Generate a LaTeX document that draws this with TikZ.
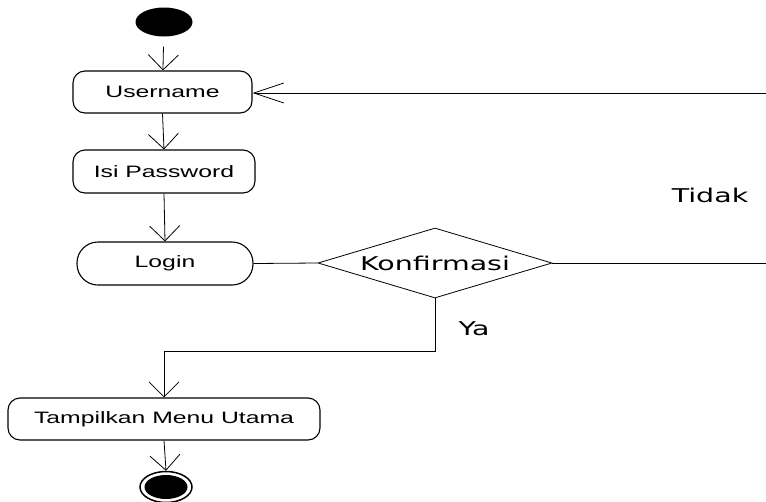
\documentclass[tikz,border=0pt]{standalone}
\usepackage{fontspec}
\usepackage{graphicx}
\setmainfont{Liberation Sans}
\newfontfamily\dvfont{DejaVu Sans}
\usetikzlibrary{arrows.meta,shapes.geometric}
\newcommand{\wtxt}[1]{\scalebox{1.5}[1]{#1}}
\newcommand{\boxfont}{\fontsize{16.5}{18}\selectfont}
\newcommand{\lblfont}{\dvfont\fontsize{19}{21}\selectfont}
\tikzset{
  act/.style={draw, line width=1.1pt, rounded corners=12pt, minimum height=42pt, inner sep=0pt, font=\boxfont},
  flow/.style={draw, line width=0.8pt},
  arr/.style={flow, -{Straight Barb[length=15pt,width=30pt,line width=0.8pt]}},
  longarr/.style={flow, -{Straight Barb[length=30pt,width=20pt,line width=0.8pt]}},
  lbl/.style={inner sep=0pt, font=\lblfont},
}
\begin{document}
\begin{tikzpicture}[x=1pt,y=-1pt]
\clip (0,0) rectangle (766,501);
\fill[white] (0,0) rectangle (766,501);
% start
\node[ellipse, fill=black, minimum width=57pt, minimum height=29pt, inner sep=0pt] (start) at (164,22) {};
% activities
\node[act, minimum width=179pt] (user) at (162.5,92) {\wtxt{Username}};
\node[act, minimum width=182pt, minimum height=43pt] (pass) at (164,171.5) {\wtxt{Isi Password}};
\node[act, minimum width=176pt, minimum height=43pt, rounded corners=21pt] (login) at (165,263.5) {\wtxt{Login}};
\node[diamond, draw, line width=0.8pt, aspect=3.34, minimum width=234pt, minimum height=70pt, inner sep=0pt, font=\lblfont] (konf) at (435,263) {\wtxt{Konfirmasi}};
\node[act, minimum width=312pt] (menu) at (164,419) {\wtxt{Tampilkan Menu Utama}};
% end
\node[ellipse, draw, line width=1.5pt, minimum width=52pt, minimum height=31pt, inner sep=0pt] (endo) at (166,487) {};
\node[ellipse, fill=black, minimum width=43pt, minimum height=24pt, inner sep=0pt] (endi) at (166,487) {};
% labels
\node[lbl] (tidak) at (710,195) {\wtxt{Tidak}};
\node[lbl] (ya) at (474,329) {\wtxt{Ya}};
% coordinates
\coordinate (r1) at (772,263);
\coordinate (r2) at (772,93);
\coordinate (y1) at (435,351);
\coordinate (y2) at (164,351);
% connectors
\draw[arr, shorten <=10pt] (start) -- (user);
\draw[arr] (user.south) -- (pass.north);
\draw[arr] (pass.south) -- (login.north);
\draw[flow] (login.east) -- (konf.west);
\draw[longarr] (konf.east) -- (r1) -- (r2) -- (user.east |- r2);
\draw[arr] (konf.south) -- (y1) -- (y2) -- (menu.north);
\draw[arr] (menu.south) -- (endo.north);
\end{tikzpicture}
\end{document}
